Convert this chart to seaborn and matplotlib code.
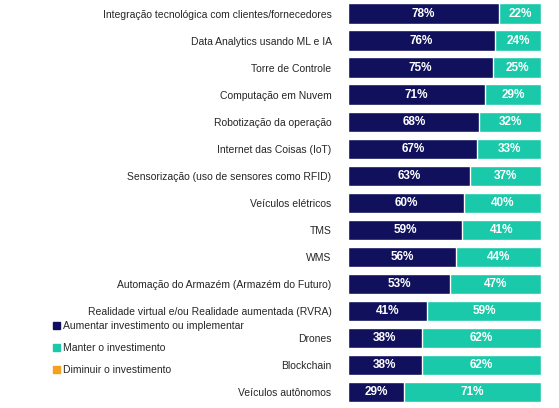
import matplotlib
matplotlib.use("Agg")
import matplotlib.pyplot as plt
import matplotlib.patches as mpatches
import seaborn as sns

categorias = [
    "Integração tecnológica com clientes/fornecedores",
    "Data Analytics usando ML e IA",
    "Torre de Controle",
    "Computação em Nuvem",
    "Robotização da operação",
    "Internet das Coisas (IoT)",
    "Sensorização (uso de sensores como RFID)",
    "Veículos elétricos",
    "TMS",
    "WMS",
    "Automação do Armazém (Armazém do Futuro)",
    "Realidade virtual e/ou Realidade aumentada (RVRA)",
    "Drones",
    "Blockchain",
    "Veículos autônomos",
]
aumentar = [78, 76, 75, 71, 68, 67, 63, 60, 59, 56, 53, 41, 38, 38, 29]
manter = [22, 24, 25, 29, 32, 33, 37, 40, 41, 44, 47, 59, 62, 62, 71]
diminuir = [0] * 15
legenda = ["Aumentar investimento ou implementar", "Manter o investimento", "Diminuir o investimento"]

navy = "#10105c"
teal = "#19c9a9"
orange = "#f5a01e"

sns.set_style("white")
plt.rcParams['font.family'] = ['Liberation Sans', 'DejaVu Sans']

fig = plt.figure(figsize=(5.59, 4.08), dpi=100)
ax = fig.add_axes([0.623, 0.006, 0.345, 0.994])

total = [a + m + d for a, m, d in zip(aumentar, manter, diminuir)]
sns.barplot(x=total, y=categorias, color=teal, orient="h", width=0.75, ax=ax, saturation=1)
sns.barplot(x=aumentar, y=categorias, color=navy, orient="h", width=0.75, ax=ax, saturation=1)

# rótulos de percentual dentro das barras
for i, (a, m) in enumerate(zip(aumentar, manter)):
    ax.text(a / 2, i, f"{a}%", color="white", fontweight="bold", fontsize=8.5, ha="center", va="center")
    ax.text(a + m / 2, i, f"{m}%", color="white", fontweight="bold", fontsize=8.5, ha="center", va="center")

ax.set_xlim(0, 100)
ax.set_ylim(14.5, -0.5)
ax.set_xlabel("")
ax.set_ylabel("")
ax.set_xticks([])
ax.tick_params(axis="y", length=0, pad=12, labelsize=7.5)
for s in ax.spines.values():
    s.set_visible(False)

handles = [mpatches.Patch(color=c) for c in (navy, teal, orange)]
fig.legend(handles, legenda, loc="upper left", bbox_to_anchor=(0.078, 0.235), frameon=False,
           fontsize=7.5, handlelength=0.7, handleheight=0.7, handletextpad=0.3, labelspacing=1.15)

fig.savefig("out.png", dpi=100)
